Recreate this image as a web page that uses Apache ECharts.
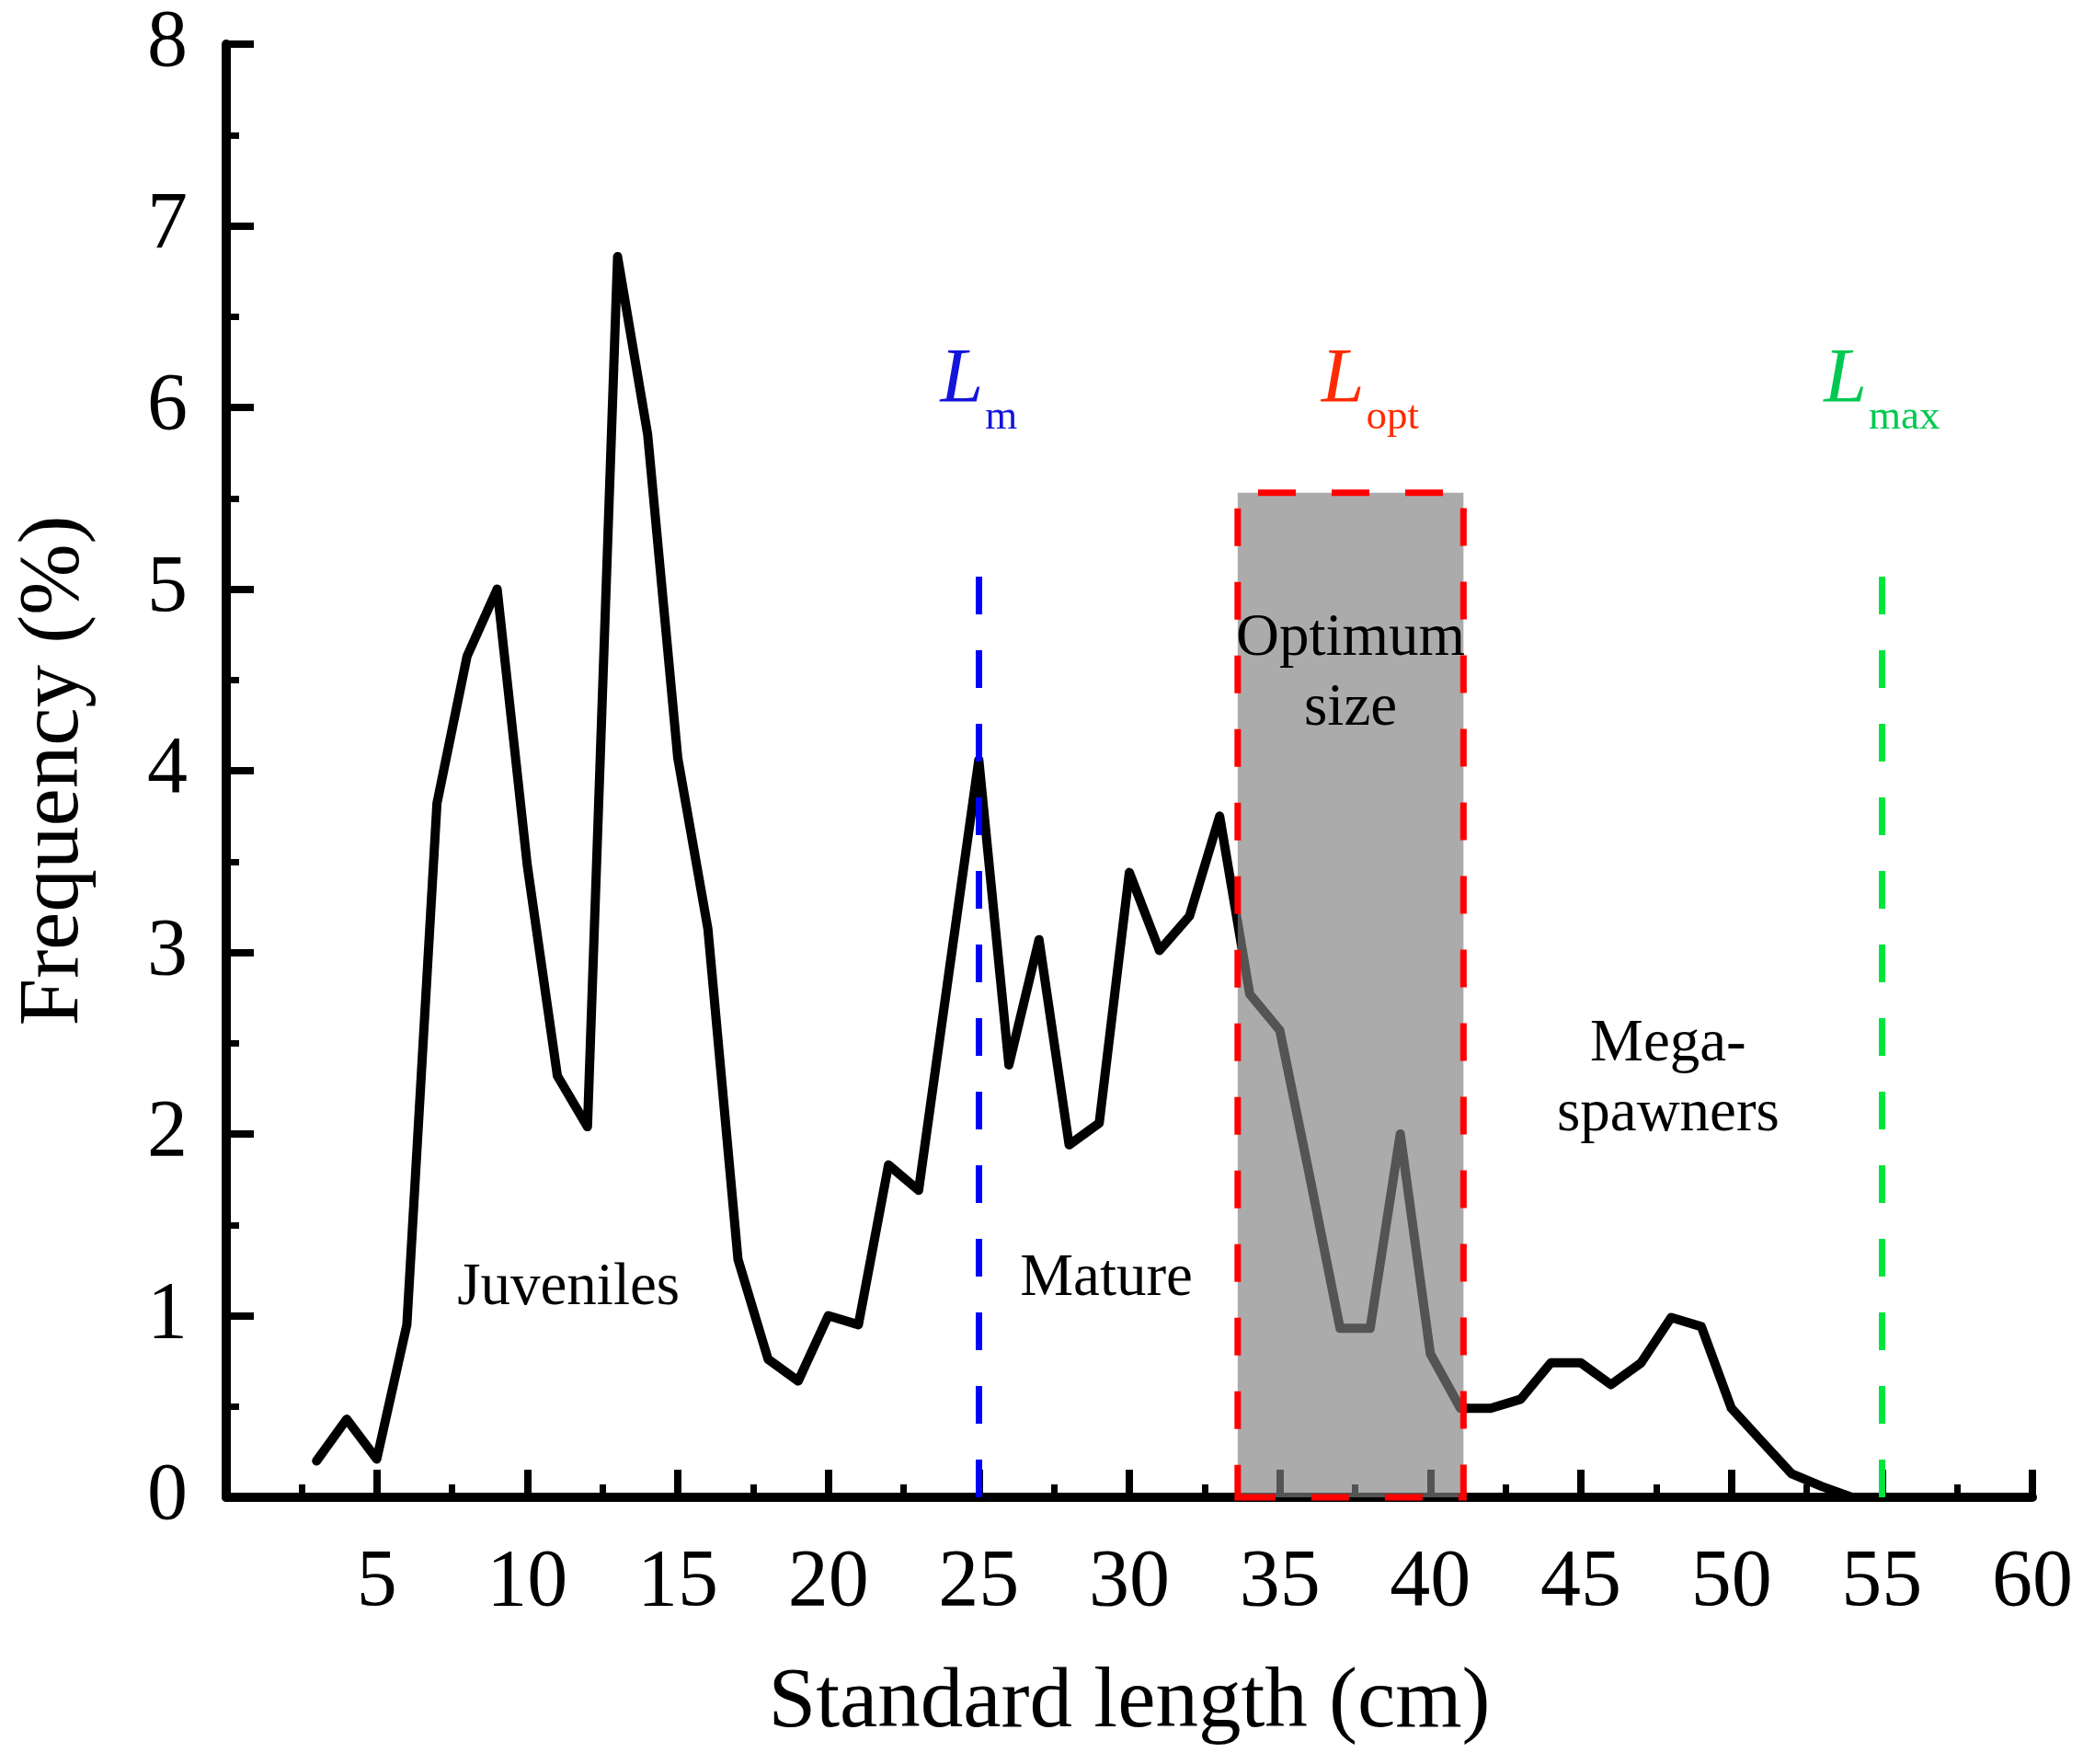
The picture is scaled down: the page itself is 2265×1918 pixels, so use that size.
<!DOCTYPE html>
<html>
<head>
<meta charset="utf-8">
<script src="https://cdn.jsdelivr.net/npm/echarts@6/dist/echarts.min.js"></script>
<style>
html,body{margin:0;padding:0;background:#fff;}
#chart{width:2265px;height:1918px;}
</style>
</head>
<body>
<div id="chart"></div>
<script>
// ---- data ----
const lengths = [3,4,5,6,7,8,9,10,11,12,13,14,15,16,17,18,19,20,21,22,23,24,25,26,27,28,29,30,31,32,33,34,35,36,37,38,39,40,41,42,43,44,45,46,47,48,49,50,51,52,53,54];
const freq = [0.2,0.43,0.21,0.95,3.82,4.63,5.0,3.48,2.32,2.04,6.83,5.85,4.07,3.13,1.31,0.76,0.64,1.0,0.95,1.83,1.69,2.88,4.06,2.38,3.07,1.94,2.06,3.44,3.01,3.2,3.75,2.77,2.57,1.76,0.93,0.93,2.0,0.79,0.49,0.49,0.54,0.74,0.74,0.62,0.74,0.99,0.94,0.49,0.31,0.13,0.06,0.0];
const Lm = 25;
const Lmax = 55;
const LoptRange = [33.6, 41.1];
const refLineTop = 5.1;
const LoptTop = 5.53;
const refNames = ['m', 'opt', 'max'];
const regionNames = ['Juveniles', 'Mature', 'Optimum\nsize', 'Mega-\nspawners'];
const yTicks = [0,1,2,3,4,5,6,7,8];
const xTicks = [5,10,15,20,25,30,35,40,45,50,55,60];

const FONT = 'Liberation Serif';
const chart = echarts.init(document.getElementById('chart'));

const axisCommon = {
  type: 'value',
  axisLine: { show: true, lineStyle: { color: '#000', width: 10 } },
  axisTick: { show: true, inside: true, length: 30, lineStyle: { color: '#000', width: 8 } },
  minorTick: { show: true, splitNumber: 2, length: 14, lineStyle: { color: '#000', width: 7 } },
  splitLine: { show: false },
  minorSplitLine: { show: false }
};

const refColors = ['#1414dc', '#ff2a00', '#00c850'];
const refX = [Lm, 38.0, Lmax];
const labelY = 6.04;

const refLabelData = refNames.map((n, i) => ({
  value: [refX[i], labelY],
  label: {
    show: true,
    position: 'inside',
    opacity: 1,
    formatter: '{L|L}{s|' + n + '}',
    rich: {
      L: { fontFamily: FONT, fontStyle: 'italic', fontSize: 84, lineHeight: 84, color: refColors[i], verticalAlign: 'bottom', padding: [0, 2, 20, 0] },
      s: { fontFamily: FONT, fontSize: 45, lineHeight: 45, color: refColors[i], verticalAlign: 'bottom' }
    }
  }
}));

const regionPos = [[11.37, 1.15], [29.24, 1.2], [37.35, 4.53], [47.9, 2.3]];
const regionData = regionNames.map((t, i) => ({
  value: regionPos[i],
  label: {
    show: true, position: 'inside', formatter: t, opacity: 1,
    fontFamily: FONT, fontSize: 65, lineHeight: 76, color: '#000', align: 'center'
  }
}));

const option = {
  backgroundColor: '#fff',
  animation: false,
  grid: { left: 246, right: 55, top: 48, bottom: 290, containLabel: false },
  xAxis: Object.assign({}, axisCommon, {
    min: 0, max: 60, interval: 5,
    axisLabel: {
      fontFamily: FONT, fontSize: 88, color: '#000', margin: 50,
      formatter: v => (xTicks.indexOf(v) >= 0 ? String(v) : '')
    },
    name: 'Standard length (cm)', nameLocation: 'middle', nameGap: 178,
    nameTextStyle: { fontFamily: FONT, fontSize: 93, color: '#000' }
  }),
  yAxis: Object.assign({}, axisCommon, {
    min: 0, max: 8, interval: 1,
    axisLabel: {
      fontFamily: FONT, fontSize: 88, color: '#000', margin: 42,
      formatter: v => (yTicks.indexOf(v) >= 0 ? String(v) : '')
    },
    name: 'Frequency (%)', nameLocation: 'middle', nameGap: 140,
    nameTextStyle: { fontFamily: FONT, fontSize: 93, color: '#000' }
  }),
  series: [
    {
      type: 'line',
      data: lengths.map((x, i) => [x, freq[i]]),
      showSymbol: false,
      symbol: 'none',
      lineStyle: { color: '#000', width: 10, join: 'round', cap: 'round' },
      z: 3,
      silent: true
    },
    {
      type: 'line',
      data: [],
      z: 5,
      silent: true,
      markArea: {
        silent: true,
        z: 10,
        itemStyle: {
          color: 'rgba(128,128,128,0.66)',
          borderColor: '#ff0000',
          borderWidth: 7,
          borderType: [41, 39]
        },
        label: { show: false },
        data: [[{ xAxis: LoptRange[0], yAxis: 0 }, { xAxis: LoptRange[1], yAxis: LoptTop }]]
      }
    },
    {
      type: 'line',
      data: [],
      z: 6,
      silent: true,
      markLine: {
        silent: true,
        z: 11,
        symbol: ['none', 'none'],
        label: { show: false },
        data: [
          [{ coord: [Lm, 0], lineStyle: { color: '#0000ff', width: 7, type: [41, 39] } }, { coord: [Lm, refLineTop] }],
          [{ coord: [Lmax, 0], lineStyle: { color: '#00e63c', width: 7, type: [41, 39] } }, { coord: [Lmax, refLineTop] }]
        ]
      }
    },
    {
      type: 'scatter',
      data: refLabelData,
      symbolSize: 0,
      z: 12,
      silent: true
    },
    {
      type: 'scatter',
      data: regionData,
      symbolSize: 0,
      z: 12,
      silent: true
    }
  ]
};
chart.setOption(option);
</script>
</body>
</html>
